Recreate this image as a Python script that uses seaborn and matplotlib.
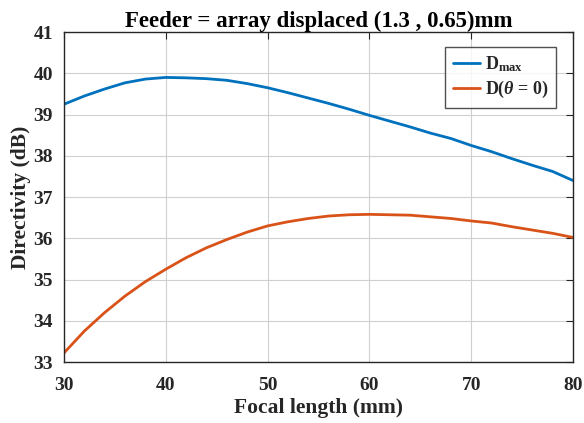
import numpy as np
import pandas as pd
import seaborn as sns
import matplotlib.pyplot as plt

focal = [30, 32, 34, 36, 38, 40, 42, 44, 46, 48, 50, 52, 54, 56, 58, 60, 62,
         64, 66, 68, 70, 72, 74, 76, 78, 80]
d_max = [39.25, 39.45, 39.62, 39.77, 39.86, 39.90, 39.89, 39.87, 39.83, 39.75,
         39.65, 39.53, 39.40, 39.27, 39.13, 38.98, 38.84, 38.70, 38.55, 38.42,
         38.25, 38.10, 37.93, 37.77, 37.62, 37.40]
d_broad = [33.22, 33.75, 34.20, 34.60, 34.95, 35.25, 35.53, 35.77, 35.97, 36.15,
           36.30, 36.40, 36.48, 36.54, 36.57, 36.58, 36.57, 36.56, 36.52, 36.48,
           36.42, 36.37, 36.28, 36.20, 36.12, 36.02]
labels = [r"$\mathbf{D_{max}}$", r"D($\theta$ = 0)"]

df = pd.DataFrame({"Focal": focal * 2,
                   "D": d_max + d_broad,
                   "Series": [labels[0]] * len(focal) + [labels[1]] * len(focal)})

sns.set_style("white")
plt.rcParams['font.family'] = ['Liberation Serif', 'DejaVu Serif']
plt.rcParams['font.weight'] = 'bold'
plt.rcParams['mathtext.fontset'] = 'custom'
plt.rcParams['mathtext.rm'] = 'Liberation Serif:bold'
plt.rcParams['mathtext.it'] = 'Liberation Serif:italic:bold'
plt.rcParams['mathtext.bf'] = 'Liberation Serif:bold'
txt = "#262626"

fig = plt.figure(figsize=(5.84, 4.23), dpi=100)
ax = fig.add_axes([0.1096, 0.1442, 0.8716, 0.780])
sns.lineplot(data=df, x="Focal", y="D", hue="Series",
             palette=["#0072BD", "#D95319"], linewidth=2, ax=ax)

ax.set_xlim(30, 80)
ax.set_ylim(33, 41)
ax.set_xticks(range(30, 81, 10))
ax.set_yticks(range(33, 42))
ax.grid(True, color="#d0d0d0", linewidth=0.8)
ax.tick_params(direction="in", length=5, labelsize=14, top=True, right=True,
               labelcolor=txt)
ax.tick_params(axis="x", pad=11)
ax.tick_params(axis="y", pad=8)
for s in ax.spines.values():
    s.set_color(txt)
    s.set_linewidth(1)
for t in ax.get_xticklabels() + ax.get_yticklabels():
    t.set_fontweight("bold")
ax.set_xlabel("Focal length (mm)", fontsize=15.5, fontweight="bold", labelpad=3,
              color=txt)
ax.set_ylabel("Directivity (dB)", fontsize=15.5, fontweight="bold", labelpad=2,
              color=txt)
ax.set_title("Feeder = array displaced (1.3 , 0.65)mm", fontsize=16.5,
             fontweight="bold", pad=4, color="black")
leg = ax.legend(loc="upper right", bbox_to_anchor=(0.967, 0.955), fontsize=13,
                frameon=True, fancybox=False, edgecolor=txt, borderaxespad=0,
                handlelength=1.5, handletextpad=0.3, borderpad=0.4,
                labelspacing=0.3)
leg.get_frame().set_linewidth(1)
fig.savefig("out.png", dpi=100)
